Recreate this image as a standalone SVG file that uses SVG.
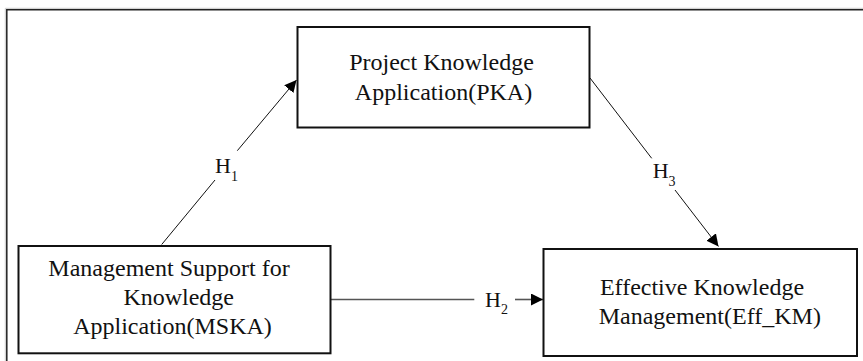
<svg xmlns="http://www.w3.org/2000/svg" width="863" height="361" viewBox="0 0 863 361">
<style>
  .box { fill: #fff; stroke: #111; stroke-width: 2; }
  .t { font-family: "Liberation Serif", "Times New Roman", serif; font-size: 24px; fill: #111; text-anchor: middle; }
  .h { font-family: "Liberation Serif", "Times New Roman", serif; font-size: 22px; fill: #111; }
  .sub { font-size: 14px; }
  .thin { stroke: #111; stroke-width: 1; fill: none; }
  .gray { stroke: #555; stroke-width: 1.6; fill: none; }
</style>
<defs>
  <marker id="arr" markerUnits="userSpaceOnUse" markerWidth="12" markerHeight="12" refX="12" refY="6" orient="auto">
    <path d="M0,0 L12,6 L0,12 z" fill="#000"/>
  </marker>
</defs>
<rect width="863" height="361" fill="#fff"/>
<g id="frame">
  <path d="M5.3,361 V8.3 H863" fill="none" stroke="#c8c8c8" stroke-width="1"/>
  <path d="M6.8,361 V9.8 H863" fill="none" stroke="#222" stroke-width="1.5"/>
</g>
<g id="connectors">
  <line class="thin" x1="161.7" y1="244.5" x2="215" y2="180"/>
  <line class="thin" x1="237.3" y1="150.7" x2="296.5" y2="80" marker-end="url(#arr)"/>
  <line class="thin" x1="590" y1="78" x2="651.7" y2="158.3"/>
  <line class="thin" x1="675" y1="190" x2="718.5" y2="246.5" marker-end="url(#arr)"/>
  <line class="gray" x1="330.5" y1="299.5" x2="474.3" y2="299.5"/>
  <line class="gray" x1="515" y1="299.5" x2="543" y2="299.5" marker-end="url(#arr)"/>
  <text class="h" x="215" y="173">H<tspan class="sub" dy="7.5">1</tspan></text>
  <text class="h" x="652.7" y="178.3">H<tspan class="sub" dy="7.5">3</tspan></text>
  <text class="h" x="485" y="306.7">H<tspan class="sub" dy="7.3">2</tspan></text>
</g>
<g id="PKA">
  <rect class="box" x="297.5" y="27" width="292" height="100.5"/>
  <text class="t" x="441.5" y="70">Project Knowledge</text>
  <text class="t" x="443.5" y="100">Application(PKA)</text>
</g>
<g id="MSKA">
  <rect class="box" x="18.5" y="246" width="312" height="107.3"/>
  <text class="t" x="169" y="276">Management Support for</text>
  <text class="t" x="178.7" y="305">Knowledge</text>
  <text class="t" x="172.5" y="334.3">Application(MSKA)</text>
</g>
<g id="EffKM">
  <rect class="box" x="543.5" y="249" width="313.5" height="107"/>
  <text class="t" x="702" y="294.5">Effective Knowledge</text>
  <text class="t" x="709.8" y="323.5">Management(Eff_KM)</text>
</g>
</svg>
